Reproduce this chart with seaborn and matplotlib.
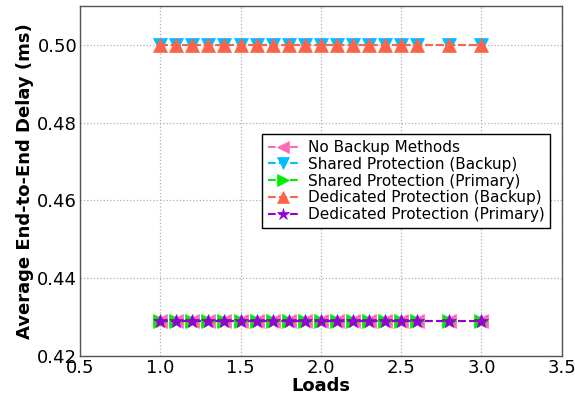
import numpy as np
import pandas as pd
import matplotlib
matplotlib.use("Agg")
import matplotlib.pyplot as plt
import seaborn as sns

loads = [1.0, 1.1, 1.2, 1.3, 1.4, 1.5, 1.6, 1.7, 1.8, 1.9, 2.0,
         2.1, 2.2, 2.3, 2.4, 2.5, 2.6, 2.8, 3.0]
no_backup = [0.429] * len(loads)
shared_backup = [0.500] * len(loads)
shared_primary = [0.429] * len(loads)
dedicated_backup = [0.500] * len(loads)
dedicated_primary = [0.429] * len(loads)

series = [
    ("No Backup Methods", no_backup, "<", "#ff69b4"),
    ("Shared Protection (Backup)", shared_backup, "v", "#00bfff"),
    ("Shared Protection (Primary)", shared_primary, ">", "#00ee00"),
    ("Dedicated Protection (Backup)", dedicated_backup, "^", "#ff6347"),
    ("Dedicated Protection (Primary)", dedicated_primary, "*", "#9400d3"),
]

sns.set_style("white")
plt.rcParams['font.family'] = ['DejaVu Sans']
plt.rcParams['text.color'] = 'black'
plt.rcParams['axes.labelcolor'] = 'black'
plt.rcParams['xtick.color'] = 'black'
plt.rcParams['ytick.color'] = 'black'

fig = plt.figure(figsize=(5.75, 4.01), dpi=100)
ax = fig.add_axes([0.139, 0.112, 0.838, 0.873])

#--------- lines ---------
for name, vals, mk, col in series:
    df = pd.DataFrame({"Loads": loads, "Delay": vals})
    sns.lineplot(data=df, x="Loads", y="Delay", ax=ax, label=name,
                 color=col, linestyle="--", marker=mk, markersize=10,
                 markeredgecolor=col, markeredgewidth=0.5, linewidth=1.5)

ax.set_xlim(0.5, 3.5)
ax.set_ylim(0.42, 0.51)
ax.set_xticks([0.5, 1.0, 1.5, 2.0, 2.5, 3.0, 3.5])
ax.set_yticks([0.42, 0.44, 0.46, 0.48, 0.50])
ax.tick_params(axis="both", labelsize=13, length=0, pad=2)
ax.grid(True, linestyle=":", color="#b0b0b0", linewidth=0.9)

for sp in ax.spines.values():
    sp.set_color("#555555")
    sp.set_linewidth(1.0)

ax.set_xlabel("Loads", fontsize=13, fontweight="bold", labelpad=0)
ax.set_ylabel("Average End-to-End Delay (ms)", fontsize=13, fontweight="bold", labelpad=2)

leg = ax.legend(loc="center", bbox_to_anchor=(0.677, 0.5), fontsize=11,
                numpoints=1, fancybox=False, framealpha=1, handlelength=2,
                borderpad=0.4, labelspacing=0.12, handletextpad=0.6,
                markerscale=0.9)
leg.get_frame().set_edgecolor("black")
leg.get_frame().set_linewidth(1.0)

plt.savefig("out.png", dpi=100)
